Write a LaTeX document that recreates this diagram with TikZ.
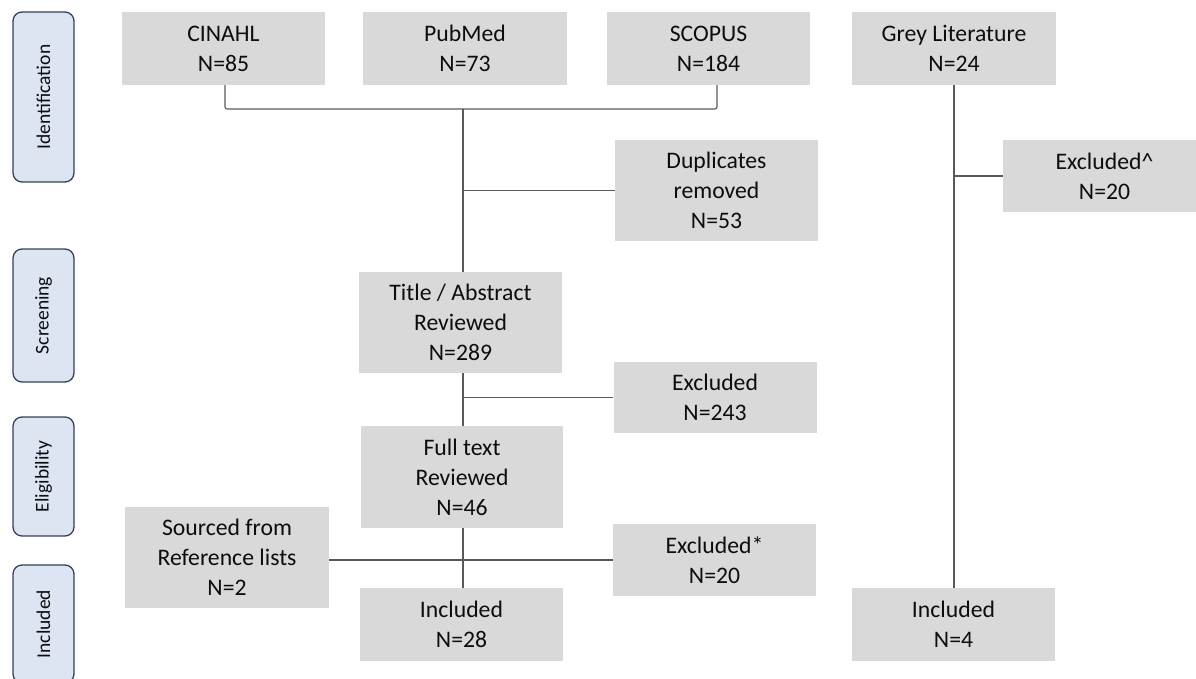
\documentclass[tikz,border=0pt]{standalone}
\usepackage{fontspec}
\setmainfont{Carlito}
\definecolor{boxgrey}{HTML}{D9D9D9}
\definecolor{linegrey}{HTML}{595959}
\definecolor{sidefill}{HTML}{DDE5F3}
\definecolor{sidedraw}{HTML}{34405A}
\definecolor{txt}{HTML}{0D0D0D}
\tikzset{
  gbox/.style={fill=boxgrey, inner sep=0pt, align=center, text=txt,
    font=\fontsize{23.7}{30}\selectfont},
  side/.style={draw=sidedraw, fill=sidefill, line width=1.3pt, rounded corners=9pt,
    rotate=90, inner sep=0pt, minimum height=61pt, text=txt,
    font=\fontsize{19.5}{22}\selectfont},
  conn/.style={draw=linegrey, line width=1.1pt},
}
\begin{document}
\begin{tikzpicture}[x=1pt,y=-1pt]
\useasboundingbox (0,0) rectangle (1196,679);
% side labels
\node[side, minimum width=170pt] (sid) at (43.5,97) {Identification};
\node[side, minimum width=133pt] (ssc) at (43.5,315.5) {Screening};
\node[side, minimum width=119pt] (sel) at (43.5,476.5) {Eligibility};
\node[side, minimum width=118pt] (sin) at (43.5,624) {Included};
% boxes
\node[gbox, minimum width=203pt, minimum height=73pt] (cinahl) at (223.5,48.5) {CINAHL\\N=85};
\node[gbox, minimum width=204pt, minimum height=73pt] (pubmed) at (465,48.5) {PubMed\\N=73};
\node[gbox, minimum width=203pt, minimum height=73pt] (scopus) at (708.5,48.5) {SCOPUS\\N=184};
\node[gbox, minimum width=204pt, minimum height=73pt] (grey) at (954,48.5) {Grey Literature\\N=24};
\node[gbox, minimum width=203pt, minimum height=101pt] (dup) at (716.5,190.5) {Duplicates\\removed\\N=53};
\node[gbox, minimum width=203pt, minimum height=72pt] (exa) at (1104.5,176) {Excluded\^{}\\N=20};
\node[gbox, minimum width=203pt, minimum height=101pt] (title) at (460.5,322.5) {Title / Abstract\\Reviewed\\N=289};
\node[gbox, minimum width=203pt, minimum height=71pt] (exb) at (715,397.5) {Excluded\\N=243};
\node[gbox, minimum width=202pt, minimum height=102pt] (full) at (462,477) {Full text\\Reviewed\\N=46};
\node[gbox, minimum width=203pt, minimum height=72pt] (exc) at (714.5,560) {Excluded*\\N=20};
\node[gbox, minimum width=204pt, minimum height=101pt] (src) at (227,557.5) {Sourced from\\Reference lists\\N=2};
\node[gbox, minimum width=203pt, minimum height=73pt] (inca) at (461.5,624.5) {Included\\N=28};
\node[gbox, minimum width=203pt, minimum height=73pt] (incb) at (953.5,624.5) {Included\\N=4};
% connectors
\coordinate (j1) at (463,109);
\draw[conn, rounded corners=2pt] ([xshift=1.5pt]cinahl.south) |- (j1) -| ([xshift=8.5pt]scopus.south);
\draw[conn] (j1) -- (j1 |- title.north);
\draw[conn] (j1 |- dup.west) -- (dup.west);
\draw[conn] (j1 |- title.south) -- (j1 |- full.north);
\draw[conn] (j1 |- exb.west) -- (exb.west);
\draw[conn] (j1 |- full.south) -- (j1 |- inca.north);
\draw[conn] (src.east |- exc.west) -- (exc.west);
\draw[conn] (grey.south) -- (grey.south |- incb.north);
\draw[conn] (grey.south |- exa.west) -- (exa.west);
\end{tikzpicture}
\end{document}
